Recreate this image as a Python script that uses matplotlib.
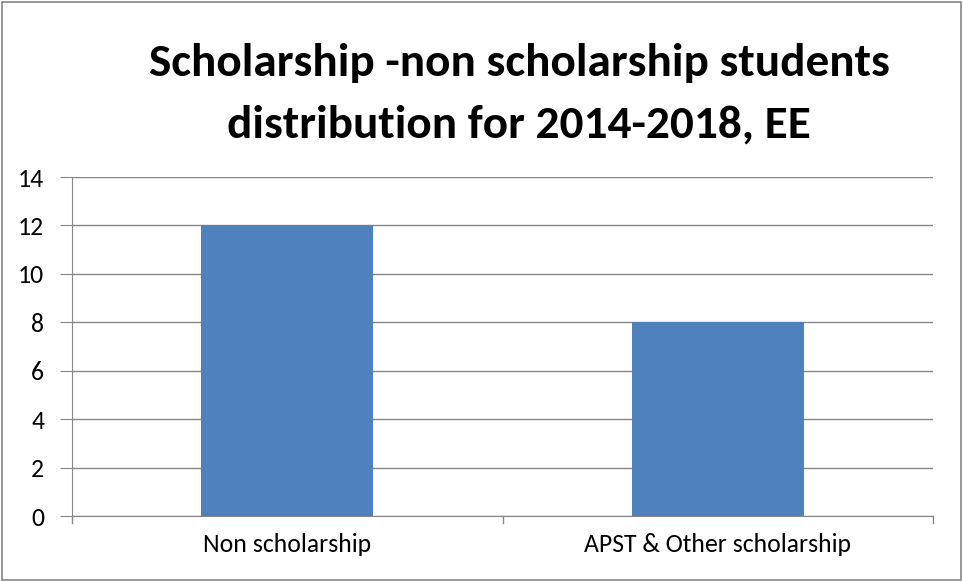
import matplotlib
matplotlib.use("Agg")
import matplotlib.pyplot as plt
from matplotlib.patches import Rectangle

categories = ["Non scholarship", "APST & Other scholarship"]
students = [12, 8]
yticks = [0, 2, 4, 6, 8, 10, 12, 14]

plt.rcParams['font.family'] = ['Carlito', 'Lato', 'DejaVu Sans']

fig = plt.figure(figsize=(9.63, 5.81), dpi=100)
ax = fig.add_axes([72 / 963, 65 / 581, 861 / 963, 339 / 581])

x = list(range(len(categories)))
ax.bar(x, students, width=0.4, color='#4F81BD', zorder=3)

ax.set_xlim(-0.5, len(categories) - 0.5)
ax.set_ylim(0, 14)
ax.set_yticks(yticks)
ax.set_xticks(x)
ax.set_xticklabels(categories, fontsize=18.5)
ax.tick_params(axis='x', length=0, pad=12)
ax.tick_params(axis='y', length=9, color='#868686', labelsize=18.5, pad=11)

# category boundary tick marks
for b in [-0.5, 0.5, 1.5]:
    ax.plot([b, b], [0, -0.3], color='#868686', lw=1, clip_on=False, zorder=4)

ax.grid(axis='y', color='#868686', lw=1, zorder=0)
for side in ['top', 'right']:
    ax.spines[side].set_visible(False)
ax.spines['left'].set_color('#868686')
ax.spines['bottom'].set_color('#868686')

fig.text(519 / 963, 1 - 94 / 581,
         "Scholarship -non scholarship students\ndistribution for 2014-2018, EE",
         ha='center', va='center', fontsize=34, fontweight='bold',
         linespacing=1.65)

# outer chart border
fig.patches.append(Rectangle((0.002, 0.002), 0.996, 0.995, transform=fig.transFigure,
                             fill=False, edgecolor='#868686', lw=1.2))

fig.savefig("out.png", dpi=100)
